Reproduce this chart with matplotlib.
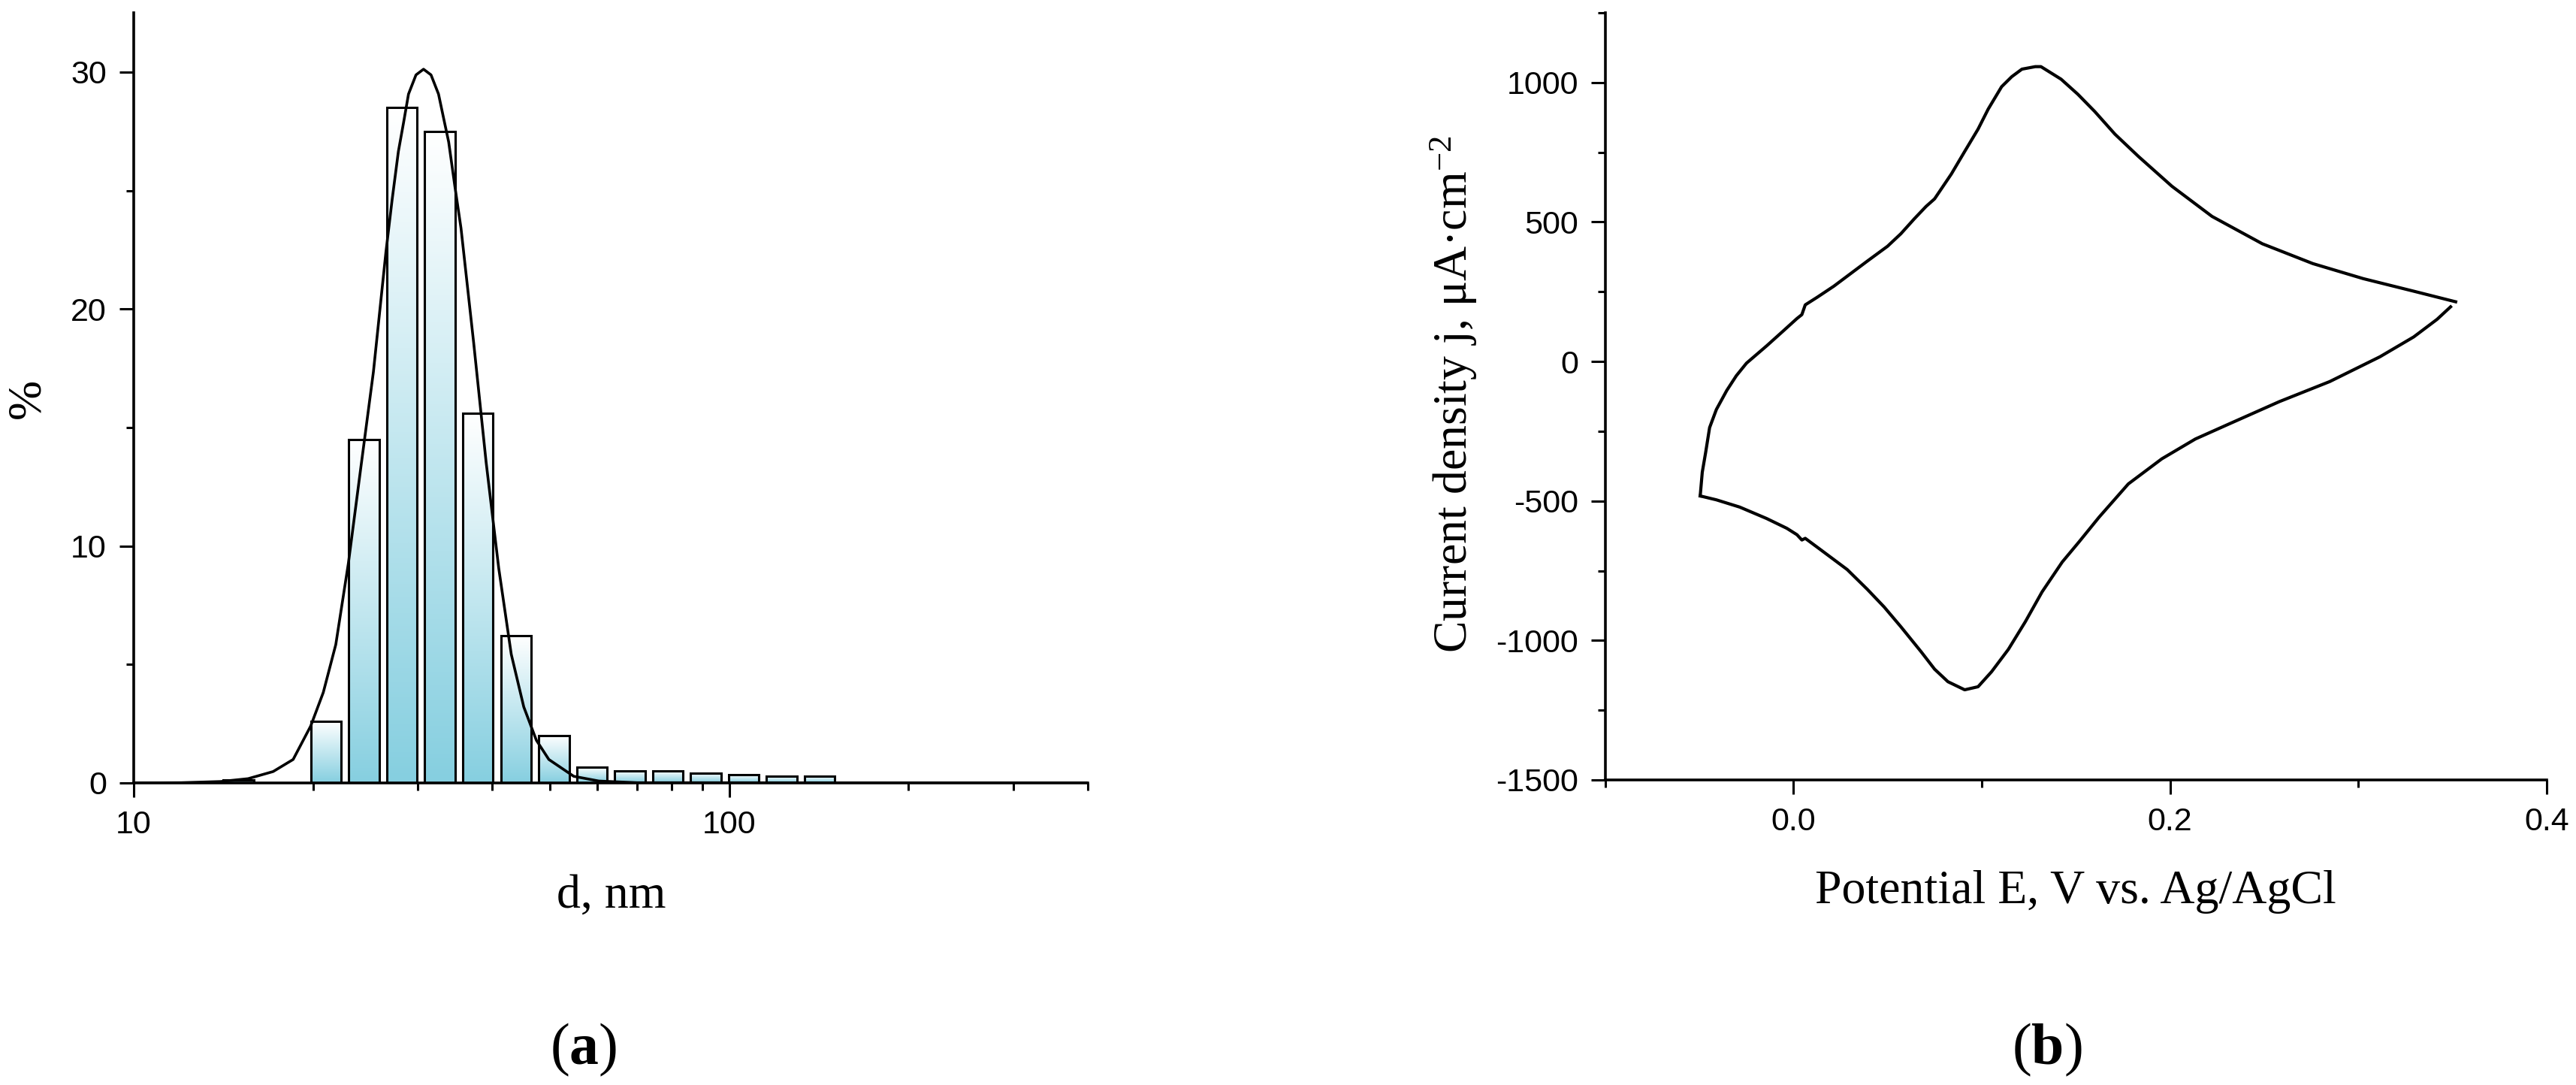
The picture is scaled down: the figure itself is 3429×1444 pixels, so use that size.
import numpy as np
import matplotlib
matplotlib.use('Agg')
import matplotlib.pyplot as plt
from matplotlib.patches import Rectangle
from matplotlib.colors import LinearSegmentedColormap
from matplotlib.ticker import MultipleLocator, LogLocator, NullFormatter, FixedLocator, FormatStrFormatter

plt.rcParams['font.family'] = ['Liberation Sans', 'DejaVu Sans']
plt.rcParams['axes.unicode_minus'] = False
plt.rcParams['mathtext.fontset'] = 'custom'
plt.rcParams['mathtext.rm'] = 'Liberation Serif'
plt.rcParams['mathtext.it'] = 'Liberation Serif:italic'
plt.rcParams['mathtext.bf'] = 'Liberation Serif:bold'

# (a) size distribution, DLS bins (nm) and % values
bin_d = [15.0, 21.04, 24.36, 28.21, 32.67, 37.84, 43.82, 50.75,
         58.77, 68.06, 78.82, 91.28, 105.7, 122.4, 141.8]
bin_pct = [0.12, 2.6, 14.5, 28.5, 27.5, 15.6, 6.2, 2.0,
           0.67, 0.52, 0.51, 0.42, 0.34, 0.27, 0.27]

# fitted curve
fit_d = [10, 12, 14, 15.56, 17.14, 18.52, 19.82, 20.81, 21.84, 22.93,
         24.06, 25.26, 26.51, 27.16, 27.82, 28.38, 28.93, 29.78, 30.66,
         31.56, 32.49, 33.13, 33.79, 34.6, 35.44, 37.22, 39.06, 41.0,
         43.04, 45.17, 47.43, 49.77, 54.8, 60.4, 70, 400]
fit_pct = [0.0, 0.01, 0.06, 0.18, 0.48, 0.99, 2.40, 3.82, 5.84, 9.27,
           13.31, 17.35, 22.40, 24.63, 26.65, 27.86, 29.07, 29.88, 30.12,
           29.88, 29.07, 28.06, 27.05, 25.2, 23.41, 18.57, 13.52, 9.07,
           5.43, 3.21, 1.80, 0.99, 0.28, 0.08, 0.01, 0.0]

# (b) cyclic voltammogram, anodic (upper) and cathodic (lower) branches
E_up = [-0.0496, -0.0485, -0.0467, -0.0446, -0.0410, -0.0355, -0.0304,
        -0.0250, -0.0143, -0.0054, 0.0018, 0.0044, 0.0062, 0.0125,
        0.0214, 0.0303, 0.0392, 0.0499, 0.0570, 0.0642, 0.0704, 0.0749,
        0.0838, 0.0909, 0.0980, 0.1034, 0.1105, 0.1159, 0.1213, 0.1284,
        0.1314, 0.1421, 0.1510, 0.1600, 0.1707, 0.1832, 0.2010, 0.2223,
        0.2490, 0.2758, 0.3026, 0.3294, 0.3517]
j_up = [-482, -397, -326, -237, -172, -104, -51, -6, 56, 110, 154, 168,
        203, 230, 270, 315, 360, 413, 458, 512, 556, 583, 672, 753, 833,
        905, 985, 1021, 1048, 1057, 1057, 1012, 958, 896, 815, 735, 628,
        520, 422, 351, 297, 252, 214]
E_down = [0.3490, 0.3418, 0.3294, 0.3115, 0.2848, 0.2580, 0.2313, 0.2134,
          0.1956, 0.1778, 0.1623, 0.1516, 0.1427, 0.1320, 0.1231, 0.1141,
          0.1052, 0.0980, 0.0909, 0.0820, 0.0749, 0.0678, 0.0570, 0.0481,
          0.0392, 0.0285, 0.0142, 0.0062, 0.0044, 0.0018, -0.0036,
          -0.0143, -0.0286, -0.0410, -0.0496]
j_down = [196, 151, 88, 17, -72, -144, -224, -278, -349, -439, -558, -647,
          -719, -826, -933, -1032, -1112, -1166, -1177, -1148, -1103,
          -1041, -951, -880, -817, -746, -674, -634, -640, -621, -598,
          -563, -522, -496, -482]

serif = ['Liberation Serif', 'DejaVu Serif']
label_size = 46
tick_size = 31

fig = plt.figure(figsize=(34.30, 14.44), dpi=100)
ax1 = fig.add_axes([0.0519, 0.2784, 0.3703, 0.7098])
ax2 = fig.add_axes([0.6230, 0.2812, 0.3653, 0.7070])

def style_axes(ax):
    for s in ['top', 'right']:
        ax.spines[s].set_visible(False)
    for s in ['left', 'bottom']:
        ax.spines[s].set_linewidth(2.6)
    ax.tick_params(which='major', direction='out', length=14, width=2.2,
                   labelsize=tick_size, pad=12)
    ax.tick_params(which='minor', direction='out', length=7, width=2.2)

# --- (a) histogram ---
blue_white = LinearSegmentedColormap.from_list('bw', ['#86cfe0', '#ffffff'])
grad = np.linspace(0, 1, 256).reshape(-1, 1)
half_w = 0.0255  # half bar width in decades
for d, p in zip(bin_d, bin_pct):
    left = d * 10 ** (-half_w)
    right = d * 10 ** half_w
    ax1.imshow(grad, extent=[left, right, 0, p], origin='lower',
               cmap=blue_white, aspect='auto', zorder=1, interpolation='bilinear')
    ax1.add_patch(Rectangle((left, 0), right - left, p, fill=False,
                            edgecolor='black', lw=2.2, zorder=2))
ax1.plot(fit_d, fit_pct, color='black', lw=2.6, zorder=3)

ax1.set_xscale('log')
ax1.set_xlim(10, 400)
ax1.set_ylim(0, 32.5)
ax1.xaxis.set_major_locator(FixedLocator([10, 100]))
ax1.xaxis.set_major_formatter(FormatStrFormatter('%d'))
ax1.xaxis.set_minor_locator(LogLocator(base=10, subs=np.arange(2, 10)))
ax1.xaxis.set_minor_formatter(NullFormatter())
ax1.yaxis.set_major_locator(MultipleLocator(10))
ax1.yaxis.set_minor_locator(MultipleLocator(5))
style_axes(ax1)

# --- (b) CV ---
ax2.plot(E_up, j_up, color='black', lw=3)
ax2.plot(E_down, j_down, color='black', lw=3)
ax2.set_xlim(-0.1, 0.4)
ax2.set_ylim(-1500, 1250)
ax2.xaxis.set_major_locator(FixedLocator([0.0, 0.2, 0.4]))
ax2.xaxis.set_major_formatter(FormatStrFormatter('%.1f'))
ax2.xaxis.set_minor_locator(FixedLocator([-0.1, 0.1, 0.3]))
ax2.yaxis.set_major_locator(MultipleLocator(500))
ax2.yaxis.set_minor_locator(MultipleLocator(250))
style_axes(ax2)

# axis labels
fig.text(0.2373, 0.174, 'd, nm', family=serif, size=label_size, ha='center', va='center')
fig.text(0.0108, 0.633, '%', family=serif, size=label_size, ha='center', va='center', rotation=90)
fig.text(0.8055, 0.178, 'Potential E, V vs. Ag/AgCl', family=serif, size=label_size,
         ha='center', va='center')
fig.text(0.5641, 0.637, r'Current density j, μA·cm$^{-2}$', family=serif, size=label_size,
         ha='center', va='center', rotation=90)

# panel letters
fig.text(0.2265, 0.0325, r'($\mathbf{a}$)', family=serif, size=56, ha='center', va='center')
fig.text(0.7945, 0.0325, r'($\mathbf{b}$)', family=serif, size=56, ha='center', va='center')

fig.savefig('out.png', dpi=100)
